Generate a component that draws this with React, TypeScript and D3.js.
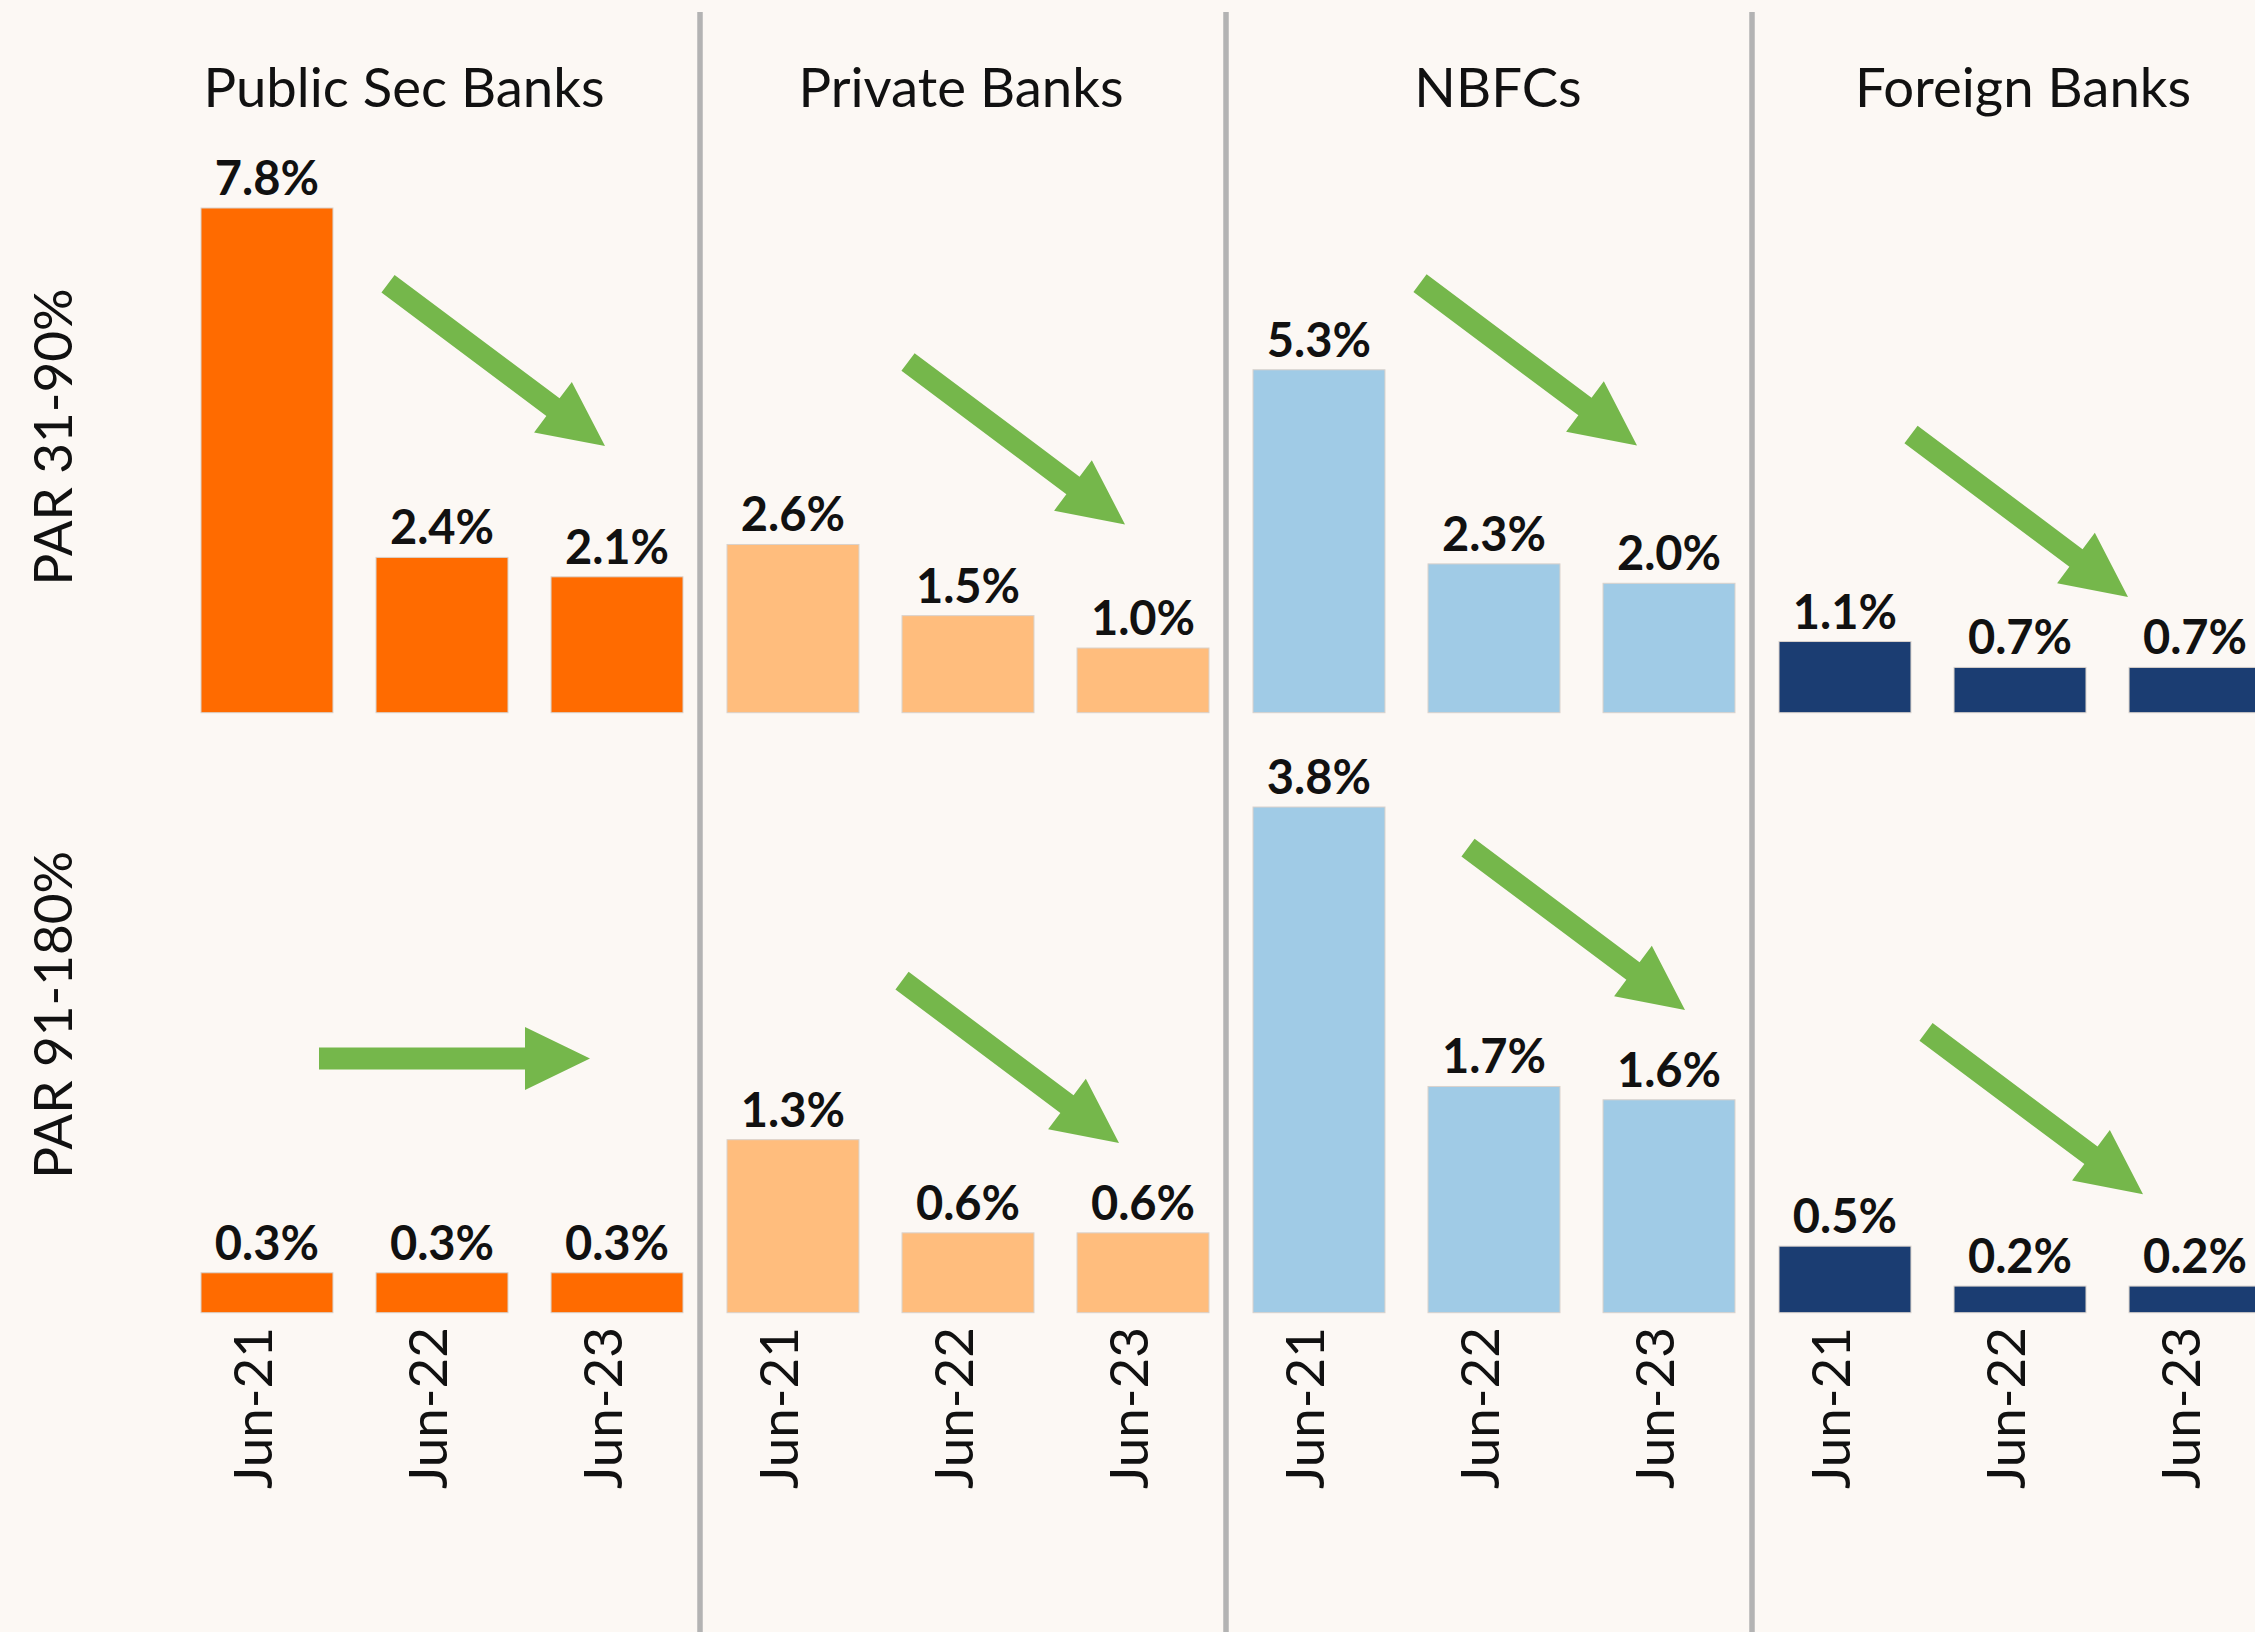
import React from "react";
import * as d3 from "d3";

const banks = ["Public Sec Banks", "Private Banks", "NBFCs", "Foreign Banks"];
const periods = ["Jun-21", "Jun-22", "Jun-23"];
const rowLabels = ["PAR 31-90%", "PAR 91-180%"];

// PAR values (%) per bank, Jun-21 / Jun-22 / Jun-23
const par31to90 = [
  [7.8, 2.4, 2.1],
  [2.6, 1.5, 1.0],
  [5.3, 2.3, 2.0],
  [1.1, 0.7, 0.7],
];
const par91to180 = [
  [0.3, 0.3, 0.3],
  [1.3, 0.6, 0.6],
  [3.8, 1.7, 1.6],
  [0.5, 0.2, 0.2],
];

const bankColors = ["#ff6b00", "#ffbd7d", "#a0cbe6", "#1b3d72"];

// trend arrows: direction + tip (x offset in panel, y in row's value units)
const trends31 = [
  { dir: "down", dx: 431, v: 4.12 },
  { dir: "down", dx: 425, v: 2.91 },
  { dir: "down", dx: 411, v: 4.13 },
  { dir: "down", dx: 376, v: 1.79 },
];
const trends91 = [
  { dir: "flat", dx: 416, v: 1.91 },
  { dir: "down", dx: 419, v: 1.275 },
  { dir: "down", dx: 459, v: 2.275 },
  { dir: "down", dx: 391, v: 0.89 },
];

const titleShift = [-38, -7, 4, 3];

const W = 2255;
const H = 1632;
const FONT = "Lato, 'Open Sans', sans-serif";
const GREEN = "#75b74b";

const arrowPath = (tx: number, ty: number, angle: number) => {
  const L = 271, hl = 65, w = 11, h = 31.5;
  const ux = Math.cos(angle), uy = Math.sin(angle);
  const nx = -uy, ny = ux;
  const tail = [tx - L * ux, ty - L * uy];
  const base = [tx - hl * ux, ty - hl * uy];
  const pts = [
    [tail[0] + nx * w, tail[1] + ny * w],
    [base[0] + nx * w, base[1] + ny * w],
    [base[0] + nx * h, base[1] + ny * h],
    [tx, ty],
    [base[0] - nx * h, base[1] - ny * h],
    [base[0] - nx * w, base[1] - ny * w],
    [tail[0] - nx * w, tail[1] - ny * w],
  ];
  return d3.line()(pts as [number, number][]) + "Z";
};

export default function App() {
  const panelX = d3.scaleBand().domain(banks).range([174, 174 + 4 * 526]).padding(0);
  const barX = d3.scaleBand().domain(periods).range([27, 27 + 482]).paddingInner(0.246).paddingOuter(0);

  const rows = [
    { label: rowLabels[0], data: par31to90, trends: trends31, y: d3.scaleLinear().domain([0, 7.8]).range([712.7, 208]), labelY: 437 },
    { label: rowLabels[1], data: par91to180, trends: trends91, y: d3.scaleLinear().domain([0, 3.8]).range([1312.7, 807]), labelY: 1015 },
  ];

  const downAngle = Math.atan2(162.9, 217.7);

  return (
    <svg width={W} height={H} style={{ position: "absolute", left: 0, top: 0, background: "#fcf8f4" }} fontFamily={FONT}>
      <rect x={0} y={0} width={W} height={H} fill="#fcf8f4" />

      {/* panel separators */}
      {banks.slice(1).map((b) => (
        <line key={b} x1={panelX(b)} x2={panelX(b)} y1={12} y2={H} stroke="#b3b3b3" strokeWidth={5.5} />
      ))}

      {/* panel titles */}
      {banks.map((b, i) => (
        <text key={b} x={panelX(b)! + 27 + 241 + titleShift[i]} y={107} textAnchor="middle" fontSize={54.5} fill="#111">
          {b}
        </text>
      ))}

      {/* row labels */}
      {rows.map((r) => (
        <text key={r.label} transform={`translate(72,${r.labelY}) rotate(-90)`} textAnchor="middle" fontSize={53} fill="#111">
          {r.label}
        </text>
      ))}

      {rows.map((r, ri) =>
        banks.map((b, bi) => {
          const x0 = panelX(b)!;
          const base = r.y(0);
          const t = r.trends[bi];
          const tx = x0 + t.dx;
          const ty = r.y(t.v);
          return (
            <g key={`${ri}-${b}`}>
              {periods.map((p, pi) => {
                const v = r.data[bi][pi];
                const x = x0 + barX(p)!;
                const top = r.y(v);
                return (
                  <g key={p}>
                    <rect x={x} y={top} width={barX.bandwidth()} height={base - top} fill={bankColors[bi]} stroke="#d9d2cc" strokeWidth={1} />
                    <text x={x + barX.bandwidth() / 2} y={top - 13} textAnchor="middle" fontSize={47} fontWeight="bold" fill="#111">
                      {v.toFixed(1)}%
                    </text>
                  </g>
                );
              })}
              <path d={arrowPath(tx, ty, t.dir === "down" ? downAngle : 0)} fill={GREEN} />
            </g>
          );
        })
      )}

      {/* period tick labels */}
      {banks.map((b) =>
        periods.map((p) => {
          const cx = panelX(b)! + barX(p)! + barX.bandwidth() / 2 + 5;
          return (
            <text key={`${b}-${p}`} transform={`translate(${cx},1327) rotate(-90)`} textAnchor="end" fontSize={53} fill="#111">
              {p}
            </text>
          );
        })
      )}
    </svg>
  );
}
